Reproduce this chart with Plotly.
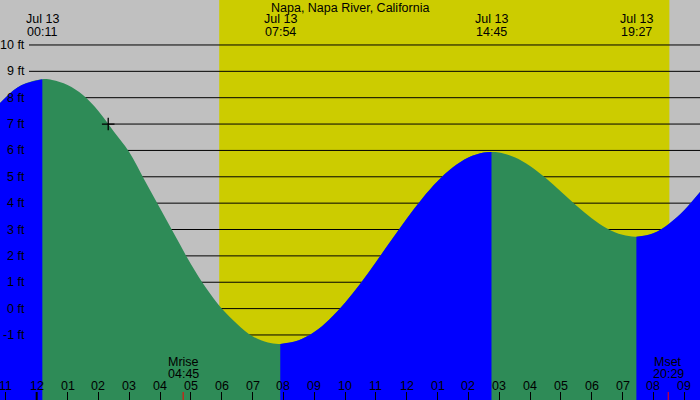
import plotly.graph_objects as go

# ---------------- data ----------------
TITLE = "Napa, Napa River, California"

# tide height (ft) vs hours after Jul 13 00:00
TIDE_HOURS = [-1.5, -1.0, -0.5, 0.183, 0.5, 1.0, 1.5, 2.0, 2.5, 3.0, 3.5, 4.0,
              4.5, 5.0, 5.5, 6.0, 6.5, 7.0, 7.5, 7.9, 8.5, 9.0, 9.5, 10.0,
              10.5, 11.0, 11.5, 12.0, 12.5, 13.0, 13.5, 14.0, 14.5, 14.75,
              15.0, 15.5, 16.0, 16.5, 17.0, 17.5, 18.0, 18.5, 19.0, 19.45,
              20.0, 20.5, 21.0, 21.5, 22.0]
TIDE_FEET = [7.38, 8.02, 8.47, 8.70, 8.67, 8.48, 8.10, 7.50, 6.72, 5.94, 4.87, 3.81,
             2.74, 1.69, 0.77, 0.00, -0.58, -1.05, -1.29, -1.34, -1.20, -0.89, -0.40, 0.22,
             0.95, 1.76, 2.59, 3.41, 4.17, 4.83, 5.36, 5.73, 5.92, 5.94,
             5.92, 5.74, 5.41, 4.96, 4.44, 3.91, 3.43, 3.04, 2.80, 2.73,
             2.86, 3.21, 3.73, 4.40, 5.16]

EXTREME_HOURS = [0.183, 7.9, 14.75, 19.45]
EXTREME_DATES = ["Jul 13", "Jul 13", "Jul 13", "Jul 13"]
EXTREME_TIMES = ["00:11", "07:54", "14:45", "19:27"]

HOUR_TICKS = [-1, 0, 1, 2, 3, 4, 5, 6, 7, 8, 9, 10, 11, 12, 13, 14, 15, 16, 17, 18, 19, 20, 21]
HOUR_LABELS = ["11", "12", "01", "02", "03", "04", "05", "06", "07", "08", "09", "10",
               "11", "12", "01", "02", "03", "04", "05", "06", "07", "08", "09"]
FEET_TICKS = [-1, 0, 1, 2, 3, 4, 5, 6, 7, 8, 9, 10]
FEET_LABELS = ["-1 ft", "0 ft", "1 ft", "2 ft", "3 ft", "4 ft", "5 ft", "6 ft",
               "7 ft", "8 ft", "9 ft", "10 ft"]

SUNRISE_HOUR = 5.92
SUNSET_HOUR = 20.52
MOON_NAMES = ["Mrise", "Mset"]
MOON_TIMES = ["04:45", "20:29"]
MOON_HOURS = [4.75, 20.483]
NOW_HOUR = 2.32
NOW_FEET = 7.0

# ---------------- styling ----------------
W, H = 700, 400
X_RANGE = [-1.190, 21.513]
Y_RANGE = [-3.467, 11.706]
GRAY = "#C0C0C0"
YELLOW = "#CCCC00"
GREEN = "#2E8B57"
BLUE = "#0000FF"
FONT = dict(family="Liberation Sans, Arial, sans-serif", size=12.5, color="black")


def py(px):
    """pixel row from the top -> paper y"""
    return 1 - px / H


fig = go.Figure()

# full curve in green (falling colour), rising segments drawn over in blue
base = Y_RANGE[0] - 1
fig.add_trace(go.Scatter(x=[TIDE_HOURS[0], TIDE_HOURS[-1]], y=[base, base], mode="lines",
                         line=dict(width=0), hoverinfo="skip"))
fig.add_trace(go.Scatter(x=TIDE_HOURS, y=TIDE_FEET, mode="lines", fill="tonexty",
                         fillcolor=GREEN, line=dict(width=0, shape="spline", color=GREEN),
                         hoverinfo="skip"))

cut = [0] + [TIDE_HOURS.index(t) for t in EXTREME_HOURS] + [len(TIDE_HOURS) - 1]
for a, b in zip(cut[:-1], cut[1:]):
    if b <= a:
        continue
    xs = TIDE_HOURS[a:b + 1]
    ys = TIDE_FEET[a:b + 1]
    if ys[-1] > ys[0]:
        fig.add_trace(go.Scatter(x=[xs[0], xs[-1]], y=[base, base], mode="lines",
                                 line=dict(width=0), hoverinfo="skip"))
        fig.add_trace(go.Scatter(x=xs, y=ys, mode="lines", fill="tonexty",
                                 fillcolor=BLUE, line=dict(width=0, shape="spline", color=BLUE),
                                 hoverinfo="skip"))

# current time marker
fig.add_trace(go.Scatter(x=[NOW_HOUR], y=[NOW_FEET], mode="markers",
                         marker=dict(symbol="cross-thin", size=9,
                                     line=dict(width=1.3, color="black")),
                         hoverinfo="skip"))

shapes = []
# daylight band
shapes.append(dict(type="rect", xref="x", yref="paper", x0=SUNRISE_HOUR, x1=SUNSET_HOUR,
                   y0=0, y1=1, fillcolor=YELLOW, line=dict(width=0), layer="below"))
# grid lines (behind the water)
for ft in FEET_TICKS:
    shapes.append(dict(type="line", xref="paper", yref="y", x0=29 / W, x1=1, y0=ft, y1=ft,
                       line=dict(color="black", width=1), layer="below"))
# bold midnight tick
shapes.append(dict(type="line", xref="x", yref="paper", x0=0, x1=0, y0=0, y1=8 / H,
                   line=dict(color="black", width=2)))
# moon ticks
for mh in MOON_HOURS:
    shapes.append(dict(type="line", xref="x", yref="paper", x0=mh, x1=mh, y0=0, y1=8 / H,
                       line=dict(color="red", width=1)))

ann = []
ann.append(dict(text=TITLE, xref="paper", yref="paper", x=0.5, y=py(7.8),
                xanchor="center", yanchor="middle", showarrow=False, font=FONT))
for t, d, tm in zip(EXTREME_HOURS, EXTREME_DATES, EXTREME_TIMES):
    ann.append(dict(text=d, xref="x", yref="paper", x=t, y=py(19.5), xanchor="center",
                    yanchor="middle", showarrow=False, font=FONT))
    ann.append(dict(text=tm, xref="x", yref="paper", x=t, y=py(32.2), xanchor="center",
                    yanchor="middle", showarrow=False, font=FONT))
for ft, lab in zip(FEET_TICKS, FEET_LABELS):
    ann.append(dict(text=lab, xref="paper", yref="y", x=27 / W, y=ft, xanchor="right",
                    yanchor="middle", showarrow=False, font=FONT))
for hr, lab in zip(HOUR_TICKS, HOUR_LABELS):
    ann.append(dict(text=lab, xref="x", yref="paper", x=hr, y=py(385.5), xanchor="center",
                    yanchor="middle", showarrow=False, font=FONT))
for mh, nm, tm in zip(MOON_HOURS, MOON_NAMES, MOON_TIMES):
    ann.append(dict(text=nm, xref="x", yref="paper", x=mh, y=py(361.7), xanchor="center",
                    yanchor="middle", showarrow=False, font=FONT))
    ann.append(dict(text=tm, xref="x", yref="paper", x=mh, y=py(373.8), xanchor="center",
                    yanchor="middle", showarrow=False, font=FONT))

fig.update_layout(
    width=W, height=H, margin=dict(l=0, r=0, t=0, b=0, pad=0),
    paper_bgcolor=GRAY, plot_bgcolor=GRAY, showlegend=False,
    shapes=shapes, annotations=ann, font=FONT,
    xaxis=dict(range=X_RANGE, showgrid=False, zeroline=False, showline=False,
               tickvals=HOUR_TICKS, ticks="inside", ticklen=8, tickwidth=1,
               tickcolor="black", showticklabels=False, fixedrange=True),
    yaxis=dict(range=Y_RANGE, showgrid=False, zeroline=False, showline=False,
               showticklabels=False, ticks="", fixedrange=True),
)

fig.write_html("out.html", config={"displayModeBar": False})
